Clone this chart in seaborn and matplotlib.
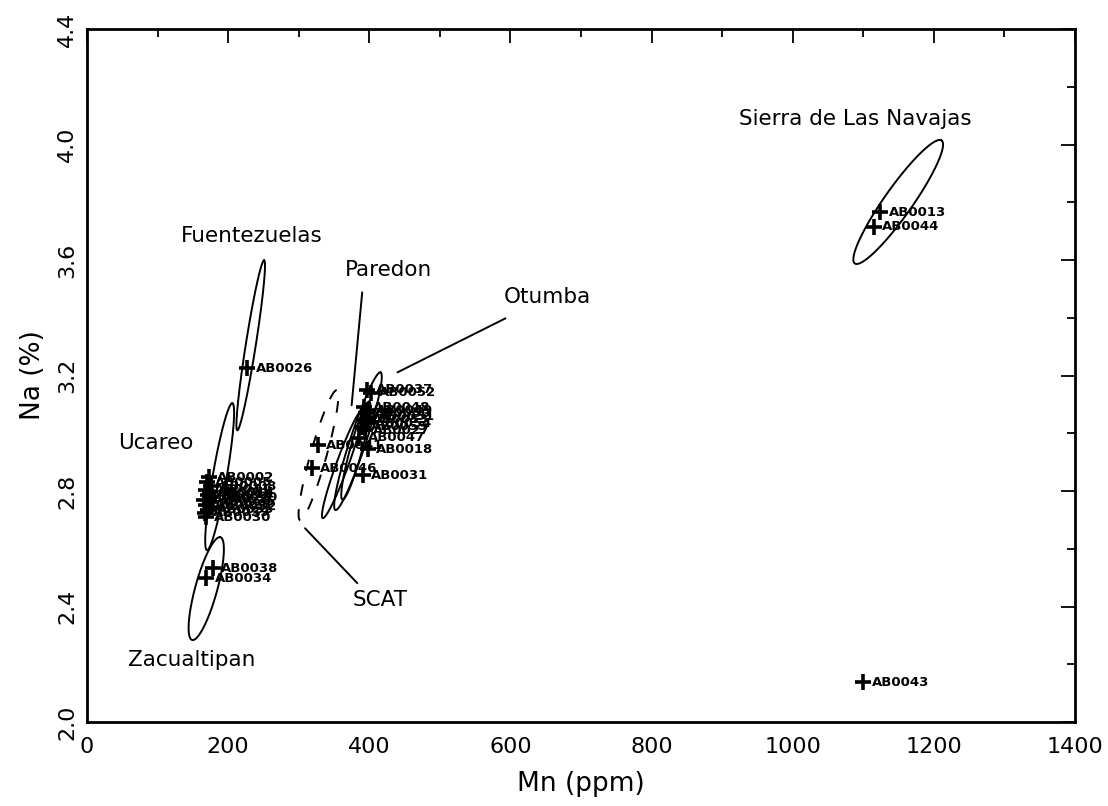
import numpy as np
import pandas as pd
import matplotlib
matplotlib.use("Agg")
import matplotlib.pyplot as plt
import seaborn as sns
from matplotlib.ticker import MultipleLocator, FormatStrFormatter

# Mn (ppm) och Na (%) for varje prov
sample_ids = ["AB0043", "AB0013", "AB0044", "AB0026", "AB0038", "AB0034",
              "AB0002", "AB0005", "AB0008", "AB0011", "AB0014", "AB0017", "AB0020",
              "AB0023", "AB0025", "AB0028", "AB0032", "AB0035", "AB0039", "AB0030",
              "AB0037", "AB0052", "AB0048", "AB0049", "AB0050", "AB0051", "AB0053",
              "AB0054", "AB0055", "AB0027", "AB0047", "AB0041", "AB0046", "AB0018", "AB0031"]
mn_ppm = [1100, 1124, 1115, 227, 178, 169,
          173, 170, 176, 168, 174, 171, 178, 166, 175, 169, 177, 172, 167, 168,
          397, 402, 393, 398, 395, 400, 392, 396, 390, 394, 386, 327, 319, 398, 391]
na_pct = [2.138, 3.765, 3.716, 3.225, 2.533, 2.498,
          2.848, 2.830, 2.817, 2.805, 2.795, 2.787, 2.778, 2.770, 2.762, 2.753, 2.745, 2.735, 2.724, 2.709,
          3.150, 3.140, 3.090, 3.080, 3.070, 3.058, 3.047, 3.035, 3.022, 3.010, 2.985, 2.958, 2.879, 2.945, 2.855]

# Ellipser (källgrupper): ändpunkter på storaxeln samt halva bredden i pixlar
ell_x0 = [213, 170, 149, 1088, 302, 334, 352, 362]
ell_y0 = [3.010, 2.595, 2.284, 3.588, 2.699, 2.706, 2.734, 2.770]
ell_x1 = [251, 206, 189, 1211, 354, 390, 416, 400]
ell_y1 = [3.599, 3.104, 2.640, 4.014, 3.149, 3.080, 3.211, 3.110]
ell_halfw = [5, 7, 11, 14, 8, 6, 8, 6]
ell_dashed = [False, False, False, False, True, False, False, False]

# Gruppnamn
group_names = ["Fuentezuelas", "Ucareo", "Zacualtipan", "Sierra de Las Navajas", "Otumba", "Paredon", "SCAT"]
group_x = [233, 97, 149, 1089, 653, 427, 416]
group_y = [3.682, 2.965, 2.214, 4.090, 3.471, 3.564, 2.422]

# Hänvisningslinjer (Otumba, Paredon, SCAT)
lead_x0 = [440, 390, 309]
lead_y0 = [3.211, 3.488, 2.671]
lead_x1 = [593, 375, 383]
lead_y1 = [3.398, 3.097, 2.481]

df = pd.DataFrame({"id": sample_ids, "Mn": mn_ppm, "Na": na_pct})

sns.set_style("white")
plt.rcParams["font.family"] = ["DejaVu Sans"]
plt.rcParams["text.color"] = "black"
plt.rcParams["axes.labelcolor"] = "black"
plt.rcParams["xtick.color"] = "black"
plt.rcParams["ytick.color"] = "black"

fig = plt.figure(figsize=(11.08, 8.06), dpi=100)
ax = fig.add_axes([0.0785, 0.1042, 0.8917, 0.8598])
ax.set_xlim(0, 1400)
ax.set_ylim(2.0, 4.4)

sns.scatterplot(data=df, x="Mn", y="Na", marker="+", s=130, linewidth=2.6,
                color="black", ax=ax, zorder=3)

# Provnamn bredvid varje punkt
for _, r in df.iterrows():
    ax.annotate(r["id"], (r["Mn"], r["Na"]), xytext=(6, 0), textcoords="offset points",
                fontsize=9.5, fontweight="bold", va="center", ha="left", color="black")

# Rita ellipserna i skärmkoordinater och för tillbaka dem till data
t = np.linspace(0, 2 * np.pi, 300)
for x0, y0, x1, y1, hw, dashed in zip(ell_x0, ell_y0, ell_x1, ell_y1, ell_halfw, ell_dashed):
    p0 = ax.transData.transform((x0, y0))
    p1 = ax.transData.transform((x1, y1))
    c = (p0 + p1) / 2
    u = (p1 - p0) / 2
    n = np.array([-u[1], u[0]]) / np.linalg.norm(u) * hw
    pts = c + np.outer(np.cos(t), u) + np.outer(np.sin(t), n)
    d = ax.transData.inverted().transform(pts)
    ax.plot(d[:, 0], d[:, 1], color="black", lw=1.4,
            ls=(0, (6, 7)) if dashed else "-")

for x0, y0, x1, y1 in zip(lead_x0, lead_y0, lead_x1, lead_y1):
    ax.plot([x0, x1], [y0, y1], color="black", lw=1.4)

for name, gx, gy in zip(group_names, group_x, group_y):
    ax.text(gx, gy, name, fontsize=15.5, ha="center", va="center", color="black")

ax.xaxis.set_major_locator(MultipleLocator(200))
ax.xaxis.set_minor_locator(MultipleLocator(100))
ax.yaxis.set_major_locator(MultipleLocator(0.4))
ax.yaxis.set_minor_locator(MultipleLocator(0.2))
ax.yaxis.set_major_formatter(FormatStrFormatter("%.1f"))
ax.tick_params(which="both", direction="in", top=True, right=True, width=1.3, color="black")
ax.tick_params(which="major", length=10, labelsize=16, labelcolor="black")
ax.tick_params(which="minor", length=6)
ax.tick_params(axis="x", pad=11)
ax.tick_params(axis="y", pad=7)
plt.setp(ax.get_yticklabels(), rotation=90, va="center")

for s in ax.spines.values():
    s.set_linewidth(2)
    s.set_color("black")

ax.set_xlabel("Mn (ppm)", fontsize=19, labelpad=10, color="black")
ax.set_ylabel("Na (%)", fontsize=19, labelpad=8, color="black")

fig.savefig("out.png", dpi=100)
